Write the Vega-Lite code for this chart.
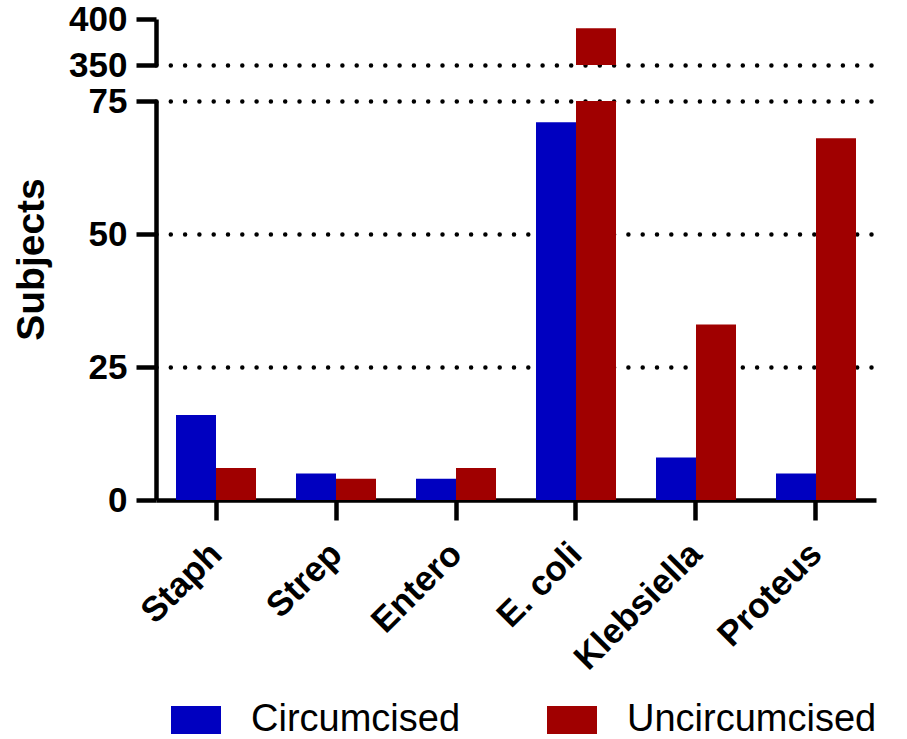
{
  "$schema": "https://vega.github.io/schema/vega-lite/v6.json",
  "padding": {"left": 12, "top": 2, "right": 0, "bottom": 0},
  "background": "white",
  "data": {"values": [
    {"organism": "Staph", "group": "Circumcised", "subjects": 16},
    {"organism": "Staph", "group": "Uncircumcised", "subjects": 6},
    {"organism": "Strep", "group": "Circumcised", "subjects": 5},
    {"organism": "Strep", "group": "Uncircumcised", "subjects": 4},
    {"organism": "Entero", "group": "Circumcised", "subjects": 4},
    {"organism": "Entero", "group": "Uncircumcised", "subjects": 6},
    {"organism": "E. coli", "group": "Circumcised", "subjects": 71},
    {"organism": "E. coli", "group": "Uncircumcised", "subjects": 390},
    {"organism": "Klebsiella", "group": "Circumcised", "subjects": 8},
    {"organism": "Klebsiella", "group": "Uncircumcised", "subjects": 33},
    {"organism": "Proteus", "group": "Circumcised", "subjects": 5},
    {"organism": "Proteus", "group": "Uncircumcised", "subjects": 68}
  ]},
  "spacing": 36,
  "bounds": "flush",
  "resolve": {"scale": {"y": "independent", "x": "independent", "color": "shared"}, "axis": {"y": "independent", "x": "independent"}},
  "config": {
    "view": {"stroke": null},
    "axis": {
      "domainColor": "black", "domainWidth": 4.5,
      "tickColor": "black", "tickWidth": 4.5, "tickSize": 20,
      "labelFont": "Liberation Sans", "labelFontWeight": "bold", "labelFontSize": 35, "labelColor": "black",
      "titleFont": "Liberation Sans", "titleFontWeight": "bold", "titleFontSize": 39, "titleColor": "black",
      "gridColor": "black", "gridWidth": 4.5, "gridDash": [0, 14.3], "gridCap": "round"
    },
    "legend": {
      "labelFont": "Liberation Sans", "labelFontSize": 38, "labelColor": "black",
      "labelLimit": 400
    }
  },
  "vconcat": [
    {
      "width": 720,
      "height": 46,
      "mark": {"type": "bar", "clip": true},
      "encoding": {
        "x": {"field": "organism", "type": "nominal", "sort": null, "scale": {"paddingInner": 0.3333, "paddingOuter": 0.16667}, "axis": null},
        "xOffset": {"field": "group", "type": "nominal", "sort": ["Circumcised", "Uncircumcised"]},
        "y": {"field": "subjects", "type": "quantitative",
          "scale": {"domain": [350, 400], "nice": false, "zero": false},
          "axis": {"values": [350, 400], "title": null, "labelPadding": 9,
            "gridOpacity": {"condition": {"test": "datum.value === 400", "value": 0}, "value": 1}}},
        "color": {"field": "group", "type": "nominal",
          "scale": {"domain": ["Circumcised", "Uncircumcised"], "range": ["#0000C0", "#A00000"]},
          "legend": {"title": null, "orient": "none", "direction": "horizontal", "legendX": 15, "legendY": 676,
            "symbolType": "M-1,-0.56L1,-0.56L1,0.56L-1,0.56Z", "symbolSize": 2500, "symbolStrokeWidth": 0,
            "labelOffset": 30, "columnPadding": 86}}
      }
    },
    {
      "width": 720,
      "height": 399,
      "mark": {"type": "bar", "clip": true},
      "encoding": {
        "x": {"field": "organism", "type": "nominal", "sort": null, "scale": {"paddingInner": 0.3333, "paddingOuter": 0.16667},
          "axis": {"title": null, "labelAngle": -45, "labelAlign": "right", "labelBaseline": "middle", "labelPadding": 28}},
        "xOffset": {"field": "group", "type": "nominal", "sort": ["Circumcised", "Uncircumcised"]},
        "y": {"field": "subjects", "type": "quantitative",
          "scale": {"domain": [0, 75], "nice": false},
          "axis": {"values": [0, 25, 50, 75], "title": "Subjects", "labelPadding": 9,
            "titleAngle": 270, "titleAlign": "center", "titleBaseline": "middle", "titleX": -125, "titleY": 158,
            "gridOpacity": {"condition": {"test": "datum.value === 0", "value": 0}, "value": 1}}},
        "color": {"field": "group", "type": "nominal",
          "scale": {"domain": ["Circumcised", "Uncircumcised"], "range": ["#0000C0", "#A00000"]}}
      }
    }
  ]
}
